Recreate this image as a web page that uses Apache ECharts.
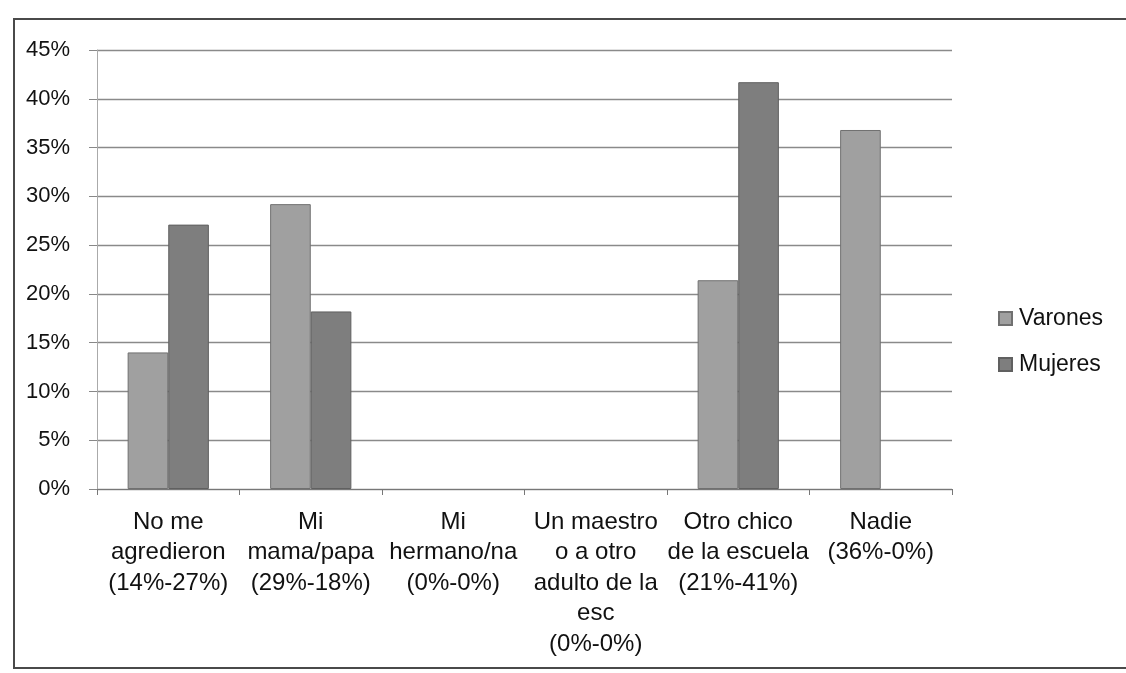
<!DOCTYPE html>
<html>
<head>
<meta charset="utf-8">
<script src="https://cdn.jsdelivr.net/npm/echarts@6/dist/echarts.min.js"></script>
<style>
html,body{margin:0;padding:0;background:#fff;}
#c{width:1126px;height:673px;}
</style>
</head>
<body>
<div id="c"></div>
<script>
const categories = [
  'No me\nagredieron\n(14%-27%)',
  'Mi\nmama/papa\n(29%-18%)',
  'Mi\nhermano/na\n(0%-0%)',
  'Un maestro\no a otro\nadulto de la\nesc\n(0%-0%)',
  'Otro chico\nde la escuela\n(21%-41%)',
  'Nadie\n(36%-0%)'
];
const varones = [14.0, 29.2, 0, 0, 21.4, 36.8];
const mujeres = [27.1, 18.2, 0, 0, 41.7, 0];
const seriesNames = ['Varones', 'Mujeres'];

const FONT = '"Liberation Sans", Arial, sans-serif';
// zero-height bars get no outline (as in the original)
const toItems = arr => arr.map(v => v === 0 ? { value: v, itemStyle: { borderWidth: 0 } } : v);

const chart = echarts.init(document.getElementById('c'));
chart.setOption({
  backgroundColor: '#ffffff',
  animation: false,
  graphic: [{
    type: 'rect',
    shape: { x: 14, y: 19, width: 1140, height: 649 },
    style: { fill: 'none', stroke: '#4a4a4a', lineWidth: 2 },
    silent: true
  }],
  grid: { left: 97, right: 174, top: 50, bottom: 184, containLabel: false },
  legend: {
    orient: 'vertical',
    left: 998,
    top: 307,
    padding: 0,
    itemWidth: 13,
    itemHeight: 13,
    itemGap: 23,
    icon: 'rect',
    textStyle: { fontFamily: FONT, fontSize: 23, color: '#111', lineHeight: 23, padding: [0, 0, 0, 2] },
    data: seriesNames
  },
  xAxis: {
    type: 'category',
    data: categories,
    axisLine: { show: true, lineStyle: { color: '#777', width: 1 } },
    axisTick: { show: true, length: 6, lineStyle: { color: '#777' } },
    axisLabel: {
      interval: 0,
      margin: 18,
      fontFamily: FONT,
      fontSize: 24,
      lineHeight: 30.5,
      color: '#111'
    }
  },
  yAxis: {
    type: 'value',
    min: 0,
    max: 45,
    interval: 5,
    axisLine: { show: true, lineStyle: { color: '#aaa', width: 1 } },
    axisTick: { show: true, length: 8, lineStyle: { color: '#888' } },
    splitLine: { show: true, lineStyle: { color: '#8a8a8a', width: 1.3 } },
    axisLabel: {
      formatter: '{value}%',
      fontFamily: FONT,
      fontSize: 22,
      color: '#111',
      margin: 27
    }
  },
  series: [
    {
      name: seriesNames[0],
      type: 'bar',
      data: toItems(varones),
      barGap: '0%',
      barCategoryGap: '43%',
      itemStyle: { color: '#a0a0a0', borderColor: '#707070', borderWidth: 1 }
    },
    {
      name: seriesNames[1],
      type: 'bar',
      data: toItems(mujeres),
      barGap: '0%',
      barCategoryGap: '43%',
      itemStyle: { color: '#7e7e7e', borderColor: '#606060', borderWidth: 1 }
    }
  ]
});
</script>
</body>
</html>
